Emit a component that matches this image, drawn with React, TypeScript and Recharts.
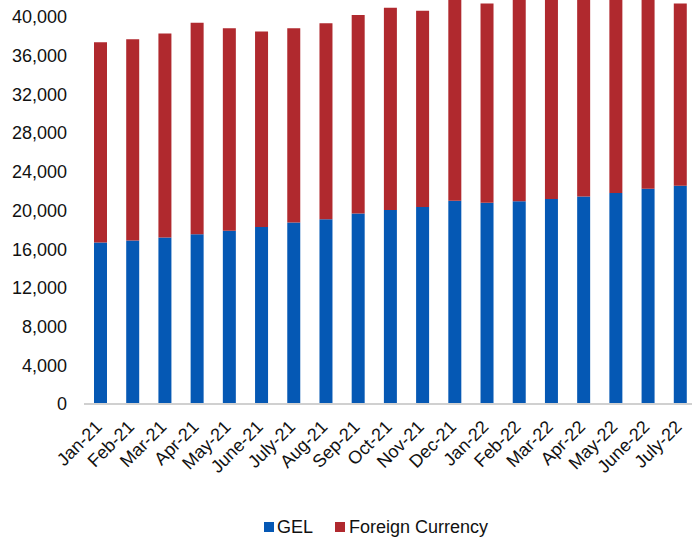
import React from "react";
import { BarChart, Bar, XAxis, YAxis, Legend } from "recharts";

const categories = [
  "Jan-21", "Feb-21", "Mar-21", "Apr-21", "May-21", "June-21", "July-21", "Aug-21",
  "Sep-21", "Oct-21", "Nov-21", "Dec-21", "Jan-22", "Feb-22", "Mar-22", "Apr-22",
  "May-22", "June-22", "July-22",
];
const gel = [
  16700, 16900, 17200, 17550, 17900, 18300, 18750, 19100,
  19700, 20050, 20350, 21000, 20800, 20950, 21200, 21450,
  21800, 22250, 22550,
];
const totals = [
  37400, 37700, 38300, 39400, 38850, 38500, 38850, 39350,
  40200, 40950, 40650, 42500, 41400, 42700, 43000, 43200,
  43500, 43300, 41400,
];
const foreign = totals.map((t, i) => t - gel[i]);
const yTicks = [0, 4000, 8000, 12000, 16000, 20000, 24000, 28000, 32000, 36000, 40000];

const data = categories.map((c, i) => ({ name: c, gel: gel[i], foreign: foreign[i] }));

const BLUE = "#0558B4";
const RED = "#B0292E";
const FONT = "'Liberation Sans', Arial, sans-serif";

const XTick = (props: any) => {
  const { x, y, payload } = props;
  const ax = x + 3;
  const ay = y + 24;
  return (
    <text
      x={ax}
      y={ay}
      transform={`rotate(-45 ${ax} ${ay})`}
      textAnchor="end"
      fontSize={18}
      fontFamily={FONT}
      fill="#111"
    >
      {payload.value}
    </text>
  );
};

const LegendContent = () => (
  <div style={{ display: "flex", alignItems: "center", fontFamily: FONT, fontSize: 18, color: "#111", lineHeight: "20px", whiteSpace: "nowrap" }}>
    <span style={{ width: 10, height: 10, background: BLUE, display: "inline-block", marginRight: 3 }} />
    <span style={{ marginRight: 22 }}>GEL</span>
    <span style={{ width: 10, height: 10, background: RED, display: "inline-block", marginRight: 4 }} />
    <span>Foreign Currency</span>
  </div>
);

export default function App() {
  return (
    <div style={{ position: "absolute", left: 0, top: 0, width: 692, height: 540, overflow: "hidden", background: "#fff" }}>
      <BarChart
        width={700}
        height={540}
        data={data}
        margin={{ top: 0, right: 4, left: 0, bottom: 0 }}
        barCategoryGap={0}
      >
        <XAxis
          dataKey="name"
          interval={0}
          height={136}
          tickLine={false}
          tickSize={0}
          tickMargin={0}
          axisLine={{ stroke: "#D0D0D0", strokeWidth: 2 }}
          tick={<XTick />}
        />
        <YAxis
          width={84}
          domain={[0, 41757]}
          allowDataOverflow
          ticks={yTicks}
          interval={0}
          axisLine={false}
          tickLine={false}
          tickSize={0}
          tickMargin={17}
          tickFormatter={(v: number) => v.toLocaleString("en-US")}
          tick={{ fontSize: 18, fontFamily: FONT, fill: "#111" }}
        />
        <Legend
          layout="horizontal"
          verticalAlign="middle"
          align="center"
          content={<LegendContent />}
          wrapperStyle={{ position: "absolute", top: 517, left: 264, width: 300 }}
        />
        <Bar dataKey="gel" name="GEL" stackId="a" fill={BLUE} barSize={13} isAnimationActive={false} />
        <Bar dataKey="foreign" name="Foreign Currency" stackId="a" fill={RED} barSize={13} isAnimationActive={false} />
      </BarChart>
    </div>
  );
}
